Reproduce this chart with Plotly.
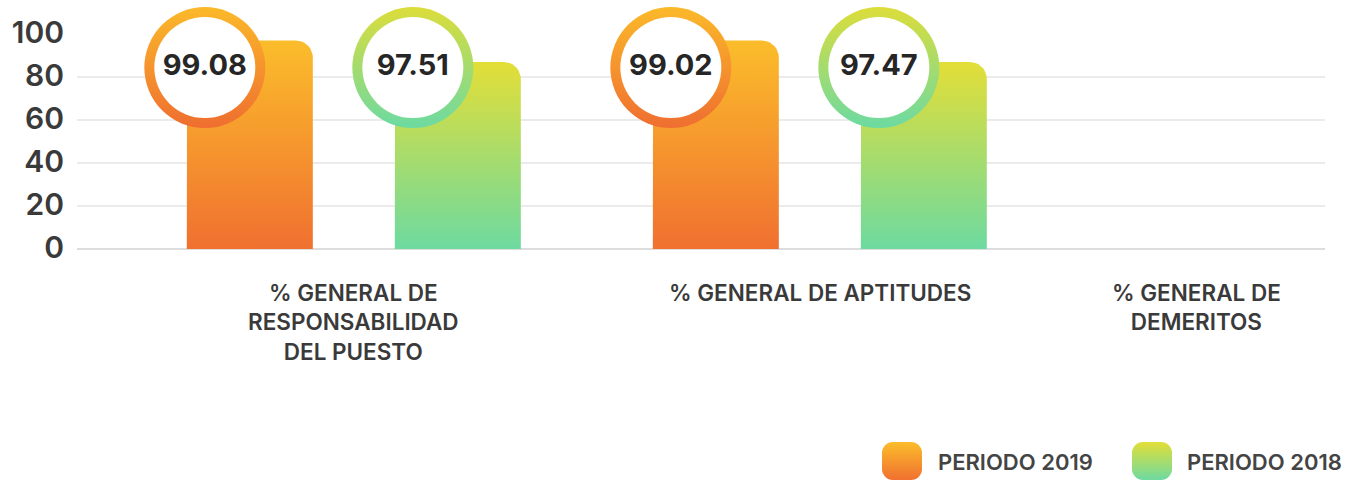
import base64
import numpy as np
import plotly.graph_objects as go

# ---------------- data ----------------
categories = ["% GENERAL DE RESPONSABILIDAD DEL PUESTO",
              "% GENERAL DE APTITUDES",
              "% GENERAL DE DEMERITOS"]
category_labels = ["% GENERAL DE<br>RESPONSABILIDAD<br>DEL PUESTO",
                   "% GENERAL DE APTITUDES",
                   "% GENERAL DE<br>DEMERITOS"]
series_names = ["PERIODO 2019", "PERIODO 2018"]
bars_2019 = [97, 97, None]        # drawn bar heights
bars_2018 = [87, 87, None]
scores_2019 = [99.08, 99.02, None]  # values shown in the circles
scores_2018 = [97.51, 97.47, None]
y_ticks = [0, 20, 40, 60, 80, 100]

# ---------------- style ----------------
W, H = 1346, 480
ML, MR, MT, MB = 77, 21, 34, 231
PLOT_W = W - ML - MR
PLOT_H = H - MT - MB
X_RANGE = [-0.594, 2.084]
Y_RANGE = [0, 100]
UX = PLOT_W / (X_RANGE[1] - X_RANGE[0])   # px per x unit
UY = PLOT_H / (Y_RANGE[1] - Y_RANGE[0])   # px per y unit

BAR_W = 126 / UX
GAP = 82 / UX
CORNER = 17
LABEL_Y = 84.4
RING_D, INNER_D = 121, 101

ORANGE = dict(top="#FBBD2B", bottom="#F07030", ring_a="#FBB92A", ring_b="#EF6E30")
GREEN = dict(top="#E3DE37", bottom="#6DDAA0", ring_a="#DCDD3A", ring_b="#6CDAA2")
TEXT = "#3a3a3a"
FONT = "Inter, Open Sans, sans-serif"

fig = go.Figure()


def rounded_bar(x0, x1, h):
    rx, ry = CORNER / UX, CORNER / UY
    t = np.linspace(0, np.pi / 2, 10)
    xs = [x0, x0]
    ys = [0, h - ry]
    xs += list(x0 + rx - rx * np.cos(t))
    ys += list(h - ry + ry * np.sin(t))
    xs += list(x1 - rx + rx * np.sin(t))
    ys += list(h - ry + ry * np.cos(t))
    xs += [x1, x1, x0]
    ys += [h - ry, 0, 0]
    return xs, ys


series = [(bars_2019, scores_2019, ORANGE, -1), (bars_2018, scores_2018, GREEN, 1)]
for heights, scores, col, side in series:
    for i, h in enumerate(heights):
        if h is None:
            continue
        if side < 0:
            x0, x1 = i - GAP / 2 - BAR_W, i - GAP / 2
        else:
            x0, x1 = i + GAP / 2, i + GAP / 2 + BAR_W
        xs, ys = rounded_bar(x0, x1, h)
        fig.add_trace(go.Scatter(
            x=xs, y=ys, mode="lines", fill="toself",
            line=dict(width=0, color=col["bottom"]),
            fillgradient=dict(type="vertical", start=0, stop=h,
                              colorscale=[[0, col["bottom"]], [1, col["top"]]]),
            hoverinfo="skip", showlegend=False))
        cx = x0 + 18 / UX
        fig.add_trace(go.Scatter(
            x=[cx], y=[LABEL_Y], mode="markers", cliponaxis=False,
            marker=dict(size=RING_D, color=col["ring_a"], line=dict(width=0),
                        gradient=dict(type="vertical", color=col["ring_b"])),
            hoverinfo="skip", showlegend=False))
        fig.add_trace(go.Scatter(
            x=[cx], y=[LABEL_Y], mode="markers+text", cliponaxis=False,
            marker=dict(size=INNER_D, color="white", line=dict(width=0)),
            text=[f"{scores[i]:.2f}"], textposition="middle center",
            textfont=dict(family=FONT, size=29, color="#262626", weight=700),
            hoverinfo="skip", showlegend=False))

# category labels
label_shift = [0, 0, -89]
for i, lab in enumerate(category_labels):
    fig.add_annotation(x=i, y=0, xref="x", yref="y", text=lab, showarrow=False,
                       xanchor="center", yanchor="top", yshift=-28, xshift=label_shift[i],
                       font=dict(family=FONT, size=22.5, color=TEXT, weight=600),
                       align="center")


# legend (manual)
def grad_svg(top, bottom):
    svg = ('<svg xmlns="http://www.w3.org/2000/svg" width="40" height="38">'
           '<defs><linearGradient id="g" x1="0" y1="0" x2="0" y2="1">'
           f'<stop offset="0" stop-color="{top}"/><stop offset="1" stop-color="{bottom}"/>'
           '</linearGradient></defs>'
           '<rect width="40" height="38" rx="11" ry="11" fill="url(#g)"/></svg>')
    return "data:image/svg+xml;base64," + base64.b64encode(svg.encode()).decode()


def px_x(px):
    return (px - ML) / PLOT_W


def px_y(py):
    return (H - MB - py) / PLOT_H


legend_items = [(series_names[0], ORANGE, 882, 936), (series_names[1], GREEN, 1132, 1185)]
for name, col, icon_x, text_x in legend_items:
    fig.add_layout_image(source=grad_svg(col["top"], col["bottom"]), xref="paper", yref="paper",
                         x=px_x(icon_x), y=px_y(442), sizex=40 / PLOT_W, sizey=38 / PLOT_H,
                         xanchor="left", yanchor="top", sizing="stretch", layer="above")
    fig.add_annotation(x=px_x(text_x), y=px_y(462), xref="paper", yref="paper", text=name,
                       showarrow=False, xanchor="left", yanchor="middle",
                       font=dict(family=FONT, size=22, color="#444444", weight=600))

fig.update_layout(
    width=W, height=H,
    margin=dict(l=ML, r=MR, t=MT, b=MB),
    plot_bgcolor="white", paper_bgcolor="white",
    showlegend=False,
    xaxis=dict(range=X_RANGE, showgrid=False, zeroline=False, showticklabels=False,
               ticks="", fixedrange=True),
    yaxis=dict(range=Y_RANGE, tickvals=y_ticks, showgrid=True, gridcolor="#EBEBEB",
               gridwidth=1.5, zeroline=True, zerolinecolor="#DDDDDD", zerolinewidth=2,
               ticks="", ticklabelstandoff=12, ticklabelshift=-2,
               tickfont=dict(family=FONT, size=30, color=TEXT, weight=600), fixedrange=True),
)

fig.write_html("out.html", config={"displayModeBar": False},
               post_script="document.body.style.margin='0';document.body.style.overflow='hidden';")
